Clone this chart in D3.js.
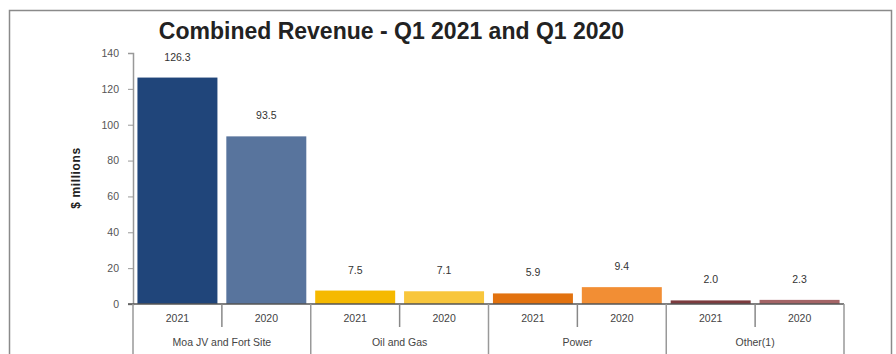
<!DOCTYPE html>
<html>
<head>
<meta charset="utf-8">
<script src="https://cdn.jsdelivr.net/npm/d3@7"></script>
<style>
  html, body { margin: 0; padding: 0; background: #fff; }
  svg { display: block; font-family: "Liberation Sans", Arial, sans-serif; }
</style>
</head>
<body>
<svg id="chart" width="896" height="354"></svg>
<script>
// Segments, years and revenue ($ millions)
const categories = ["Moa JV and Fort Site", "Oil and Gas", "Power", "Other(1)"];
const years = ["2021", "2020"];
const values2021 = [126.3, 7.5, 5.9, 2.0];
const values2020 = [93.5, 7.1, 9.4, 2.3];
const labels2021 = ["126.3", "7.5", "5.9", "2.0"];
const labels2020 = ["93.5", "7.1", "9.4", "2.3"];
const yTicks = [0, 20, 40, 60, 80, 100, 120, 140];
const colors2021 = ["#20457a", "#f5b900", "#e2720f", "#7c3b3e"];
const colors2020 = ["#58749d", "#f8c63c", "#f28e34", "#a46466"];

const rows = categories.map((c, i) => ({
  category: c,
  bars: [
    { year: years[0], value: values2021[i], label: labels2021[i], color: colors2021[i] },
    { year: years[1], value: values2020[i], label: labels2020[i], color: colors2020[i] }
  ]
}));

const svg = d3.select("#chart");

// Outer frame
svg.append("rect")
  .attr("x", 9.5).attr("y", 10.5)
  .attr("width", 882).attr("height", 360)
  .attr("fill", "none").attr("stroke", "#8a8a8a").attr("stroke-width", 1.5);

const plotLeft = 133, plotRight = 844, plotTop = 53, plotBase = 304;

const x0 = d3.scaleBand().domain(categories).range([plotLeft, plotRight]).padding(0);
const x1 = d3.scaleBand().domain(years).range([0, x0.bandwidth()])
  .paddingInner(0.1).paddingOuter(0.05);
const y = d3.scaleLinear().domain([0, 140]).range([plotBase, plotTop]);

// Title
svg.append("text")
  .attr("x", 391.5).attr("y", 39)
  .attr("text-anchor", "middle")
  .attr("font-size", 23).attr("font-weight", "bold").attr("fill", "#222")
  .text("Combined Revenue - Q1 2021 and Q1 2020");

// Y axis
const yAxis = svg.append("g")
  .attr("transform", `translate(${plotLeft},0)`)
  .call(d3.axisLeft(y).tickValues(yTicks).tickSize(5).tickPadding(9).tickFormat(d3.format("d")));
yAxis.select(".domain").attr("stroke", "#999").attr("stroke-width", 1.5);
yAxis.selectAll(".tick line").attr("stroke", "#999");
yAxis.selectAll(".tick text").attr("fill", "#555").attr("font-size", 10.5)
  .attr("font-family", "Liberation Sans, Arial, sans-serif");

// Y axis title
svg.append("text")
  .attr("transform", "translate(80,178) rotate(-90)")
  .attr("text-anchor", "middle")
  .attr("font-size", 12).attr("font-weight", "bold").attr("fill", "#222")
  .attr("letter-spacing", 0.6)
  .text("$ millions");

// Bars
const groups = svg.append("g").selectAll("g")
  .data(rows).join("g")
  .attr("transform", d => `translate(${x0(d.category)},0)`);

groups.selectAll("rect")
  .data(d => d.bars).join("rect")
  .attr("x", d => x1(d.year))
  .attr("width", x1.bandwidth())
  .attr("y", d => y(d.value))
  .attr("height", d => y(0) - y(d.value))
  .attr("fill", d => d.color);

// Value labels
groups.selectAll("text.val")
  .data(d => d.bars).join("text")
  .attr("class", "val")
  .attr("x", d => x1(d.year) + x1.bandwidth() / 2)
  .attr("y", d => y(d.value) - 17)
  .attr("text-anchor", "middle")
  .attr("font-size", 10.5).attr("fill", "#333")
  .text(d => d.label);

// Baseline
svg.append("line")
  .attr("x1", plotLeft - 5).attr("x2", plotRight)
  .attr("y1", plotBase).attr("y2", plotBase)
  .attr("stroke", "#555").attr("stroke-width", 1.5);

// Group dividers below the axis
const dividers = categories.map(c => x0(c)).concat([plotRight]);
svg.append("g").selectAll("line")
  .data(dividers).join("line")
  .attr("x1", d => d).attr("x2", d => d)
  .attr("y1", plotBase).attr("y2", 354)
  .attr("stroke", "#999").attr("stroke-width", 1.5);

// Short ticks between the two years
svg.append("g").selectAll("line")
  .data(categories).join("line")
  .attr("x1", d => x0(d) + x0.bandwidth() / 2)
  .attr("x2", d => x0(d) + x0.bandwidth() / 2)
  .attr("y1", plotBase).attr("y2", 327)
  .attr("stroke", "#888").attr("stroke-width", 1.5);

// Year labels
groups.selectAll("text.yr")
  .data(d => d.bars).join("text")
  .attr("class", "yr")
  .attr("x", d => x0.bandwidth() / 4 + (d.year === years[0] ? 0 : x0.bandwidth() / 2))
  .attr("y", 322)
  .attr("text-anchor", "middle")
  .attr("font-size", 10.5).attr("fill", "#444")
  .text(d => d.year);

// Category labels
groups.append("text")
  .attr("x", x0.bandwidth() / 2)
  .attr("y", 346)
  .attr("text-anchor", "middle")
  .attr("font-size", 10.5).attr("fill", "#444")
  .text(d => d.category);
</script>
</body>
</html>
